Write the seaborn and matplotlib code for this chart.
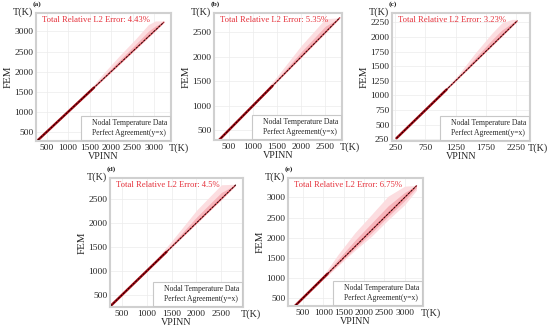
import matplotlib
matplotlib.use("Agg")
import matplotlib.pyplot as plt
import seaborn as sns
import pandas as pd
from matplotlib.lines import Line2D

sns.set_style("white")
plt.rcParams['font.family'] = ['Liberation Serif', 'DejaVu Serif']

# ---- data ----
panel_ids = ["(a)", "(b)", "(c)", "(d)", "(e)"]
errors = ["4.43%", "5.35%", "3.23%", "4.5%", "6.75%"]

# scatter cloud envelopes: VPINN positions, FEM upper / lower envelope
vpinn_a = [300, 1000, 1400, 1800, 2200, 2560, 2870, 3030, 3230]
upper_a = [300, 1010, 1430, 1930, 2400, 2800, 3170, 3260, 3260]
lower_a = [300, 995, 1390, 1785, 2180, 2540, 2850, 3010, 3220]
core_a = [300, 1600]

vpinn_b = [290, 1000, 1500, 2000, 2300, 2500, 2800]
upper_b = [290, 1015, 1600, 2230, 2560, 2780, 2800]
lower_b = [290, 995, 1490, 1985, 2285, 2480, 2790]
core_b = [290, 1400]

vpinn_c = [270, 750, 1300, 1580, 1860, 2020, 2190, 2270]
upper_c = [270, 760, 1360, 1730, 2070, 2240, 2300, 2300]
lower_c = [270, 745, 1292, 1572, 1850, 2010, 2180, 2265]
core_c = [270, 1100]

vpinn_d = [280, 1000, 1500, 2000, 2300, 2500, 2780]
upper_d = [280, 1015, 1620, 2260, 2580, 2790, 2800]
lower_d = [280, 995, 1490, 1985, 2285, 2480, 2770]
core_d = [280, 1400]

vpinn_e = [200, 1000, 1360, 1770, 2180, 2590, 3000, 3290]
upper_e = [200, 1060, 1580, 2115, 2570, 3030, 3280, 3300]
lower_e = [200, 960, 1300, 1680, 2030, 2440, 2820, 3180]
core_e = [200, 1100]

diag = [(300, 3230), (290, 2800), (270, 2280), (280, 2790), (200, 3290)]

xlims = [(252, 3396), (190, 2846), (195, 2487), (267, 2933), (130, 3450)]
ylims = [(275, 3458), (295, 2897), (222, 2409), (257, 2930), (300, 3483)]
xticks = [[500, 1000, 1500, 2000, 2500, 3000], [500, 1000, 1500, 2000, 2500],
          [250, 750, 1250, 1750, 2250], [500, 1000, 1500, 2000, 2500],
          [500, 1000, 1500, 2000, 2500, 3000]]
yticks = [[500, 1000, 1500, 2000, 2500, 3000], [500, 1000, 1500, 2000, 2500],
          [250, 500, 750, 1000, 1250, 1500, 1750, 2000, 2250],
          [500, 1000, 1500, 2000, 2500], [500, 1000, 1500, 2000, 2500, 3000]]

vpinns = [vpinn_a, vpinn_b, vpinn_c, vpinn_d, vpinn_e]
uppers = [upper_a, upper_b, upper_c, upper_d, upper_e]
lowers = [lower_a, lower_b, lower_c, lower_d, lower_e]
cores = [core_a, core_b, core_c, core_d, core_e]

# axes boxes in pixels: left, top, right, bottom
W, H = 550, 331
boxes = [(36, 13, 171, 141), (214, 13, 342, 140), (392, 13, 530, 141),
         (110, 178, 243, 307), (288, 178, 423, 306)]

fig = plt.figure(figsize=(W / 100, H / 100), dpi=100)
RED = "#e5323c"

for i in range(5):
    l, t, r, b = boxes[i]
    ax = fig.add_axes([l / W, 1 - b / H, (r - l) / W, (b - t) / H])
    xs, up, lo = vpinns[i], uppers[i], lowers[i]
    # sparse outer part of the cloud
    ax.fill_between(xs, lo, up, color="#fcdde0", lw=0)
    # denser inner part near the diagonal
    mid_up = [v + (u - v) * 0.45 for v, u in zip(xs, up)]
    mid_lo = [v - (v - w) * 0.45 for v, w in zip(xs, lo)]
    ax.fill_between(xs, mid_lo, mid_up, color="#f6b4ba", lw=0)
    # points lying on the diagonal
    df_all = pd.DataFrame({"x": [xs[0], xs[-1]], "y": [xs[0], xs[-1]]})
    sns.lineplot(data=df_all, x="x", y="y", ax=ax, color="#e0505a", lw=1.0)
    df_core = pd.DataFrame({"x": cores[i], "y": cores[i]})
    sns.lineplot(data=df_core, x="x", y="y", ax=ax, color="#a80c16", lw=1.8)
    d0, d1 = diag[i]
    df_d = pd.DataFrame({"x": [d0, d1], "y": [d0, d1]})
    sns.lineplot(data=df_d, x="x", y="y", ax=ax, color="black", lw=0.55, ls=(0, (3, 1.5)))
    ax.set_xlim(*xlims[i])
    ax.set_ylim(*ylims[i])
    ax.set_xticks(xticks[i])
    ax.set_yticks(yticks[i])
    ax.tick_params(labelsize=6.8, length=0, pad=2)
    ax.grid(True, color="#ececec", lw=0.5)
    ax.set_axisbelow(True)
    for s in ax.spines.values():
        s.set_color("#d0d0d0")
        s.set_linewidth(1.5)
    ax.set_xlabel("VPINN", fontsize=7.2, labelpad=0)
    ax.set_ylabel("FEM", fontsize=7.8, labelpad=1)
    ax.text(0.045, 0.945, "Total Relative L2 Error: " + errors[i], transform=ax.transAxes,
            color=RED, fontsize=6.2, va="center", ha="left")
    handles = [Line2D([], [], ls="none"), Line2D([], [], ls="none")]
    leg = ax.legend(handles, ["Nodal Temperature Data", "Perfect Agreement(y=x)"],
                    loc="lower right", fontsize=5.5, frameon=True, fancybox=False,
                    handlelength=0.7, handletextpad=0.4, borderpad=0.35,
                    labelspacing=0.3, borderaxespad=0.12, framealpha=1)
    leg.get_frame().set_edgecolor("#c8c8c8")
    leg.get_frame().set_linewidth(0.8)
    # unit labels and panel ids (figure pixel positions)
    fig.text((l - 3) / W, 1 - (t - 0.5) / H, "T(K)", fontsize=7.3, ha="right", va="center")
    fig.text((l - 3) / W, 1 - (t - 8.5) / H, panel_ids[i], fontsize=5.3, ha="left",
             va="center", fontweight="bold")
    fig.text((r - 2) / W, 1 - (b + 7.5) / H, "T(K)", fontsize=7.3, ha="left", va="center")

fig.savefig("out.png", dpi=100)
